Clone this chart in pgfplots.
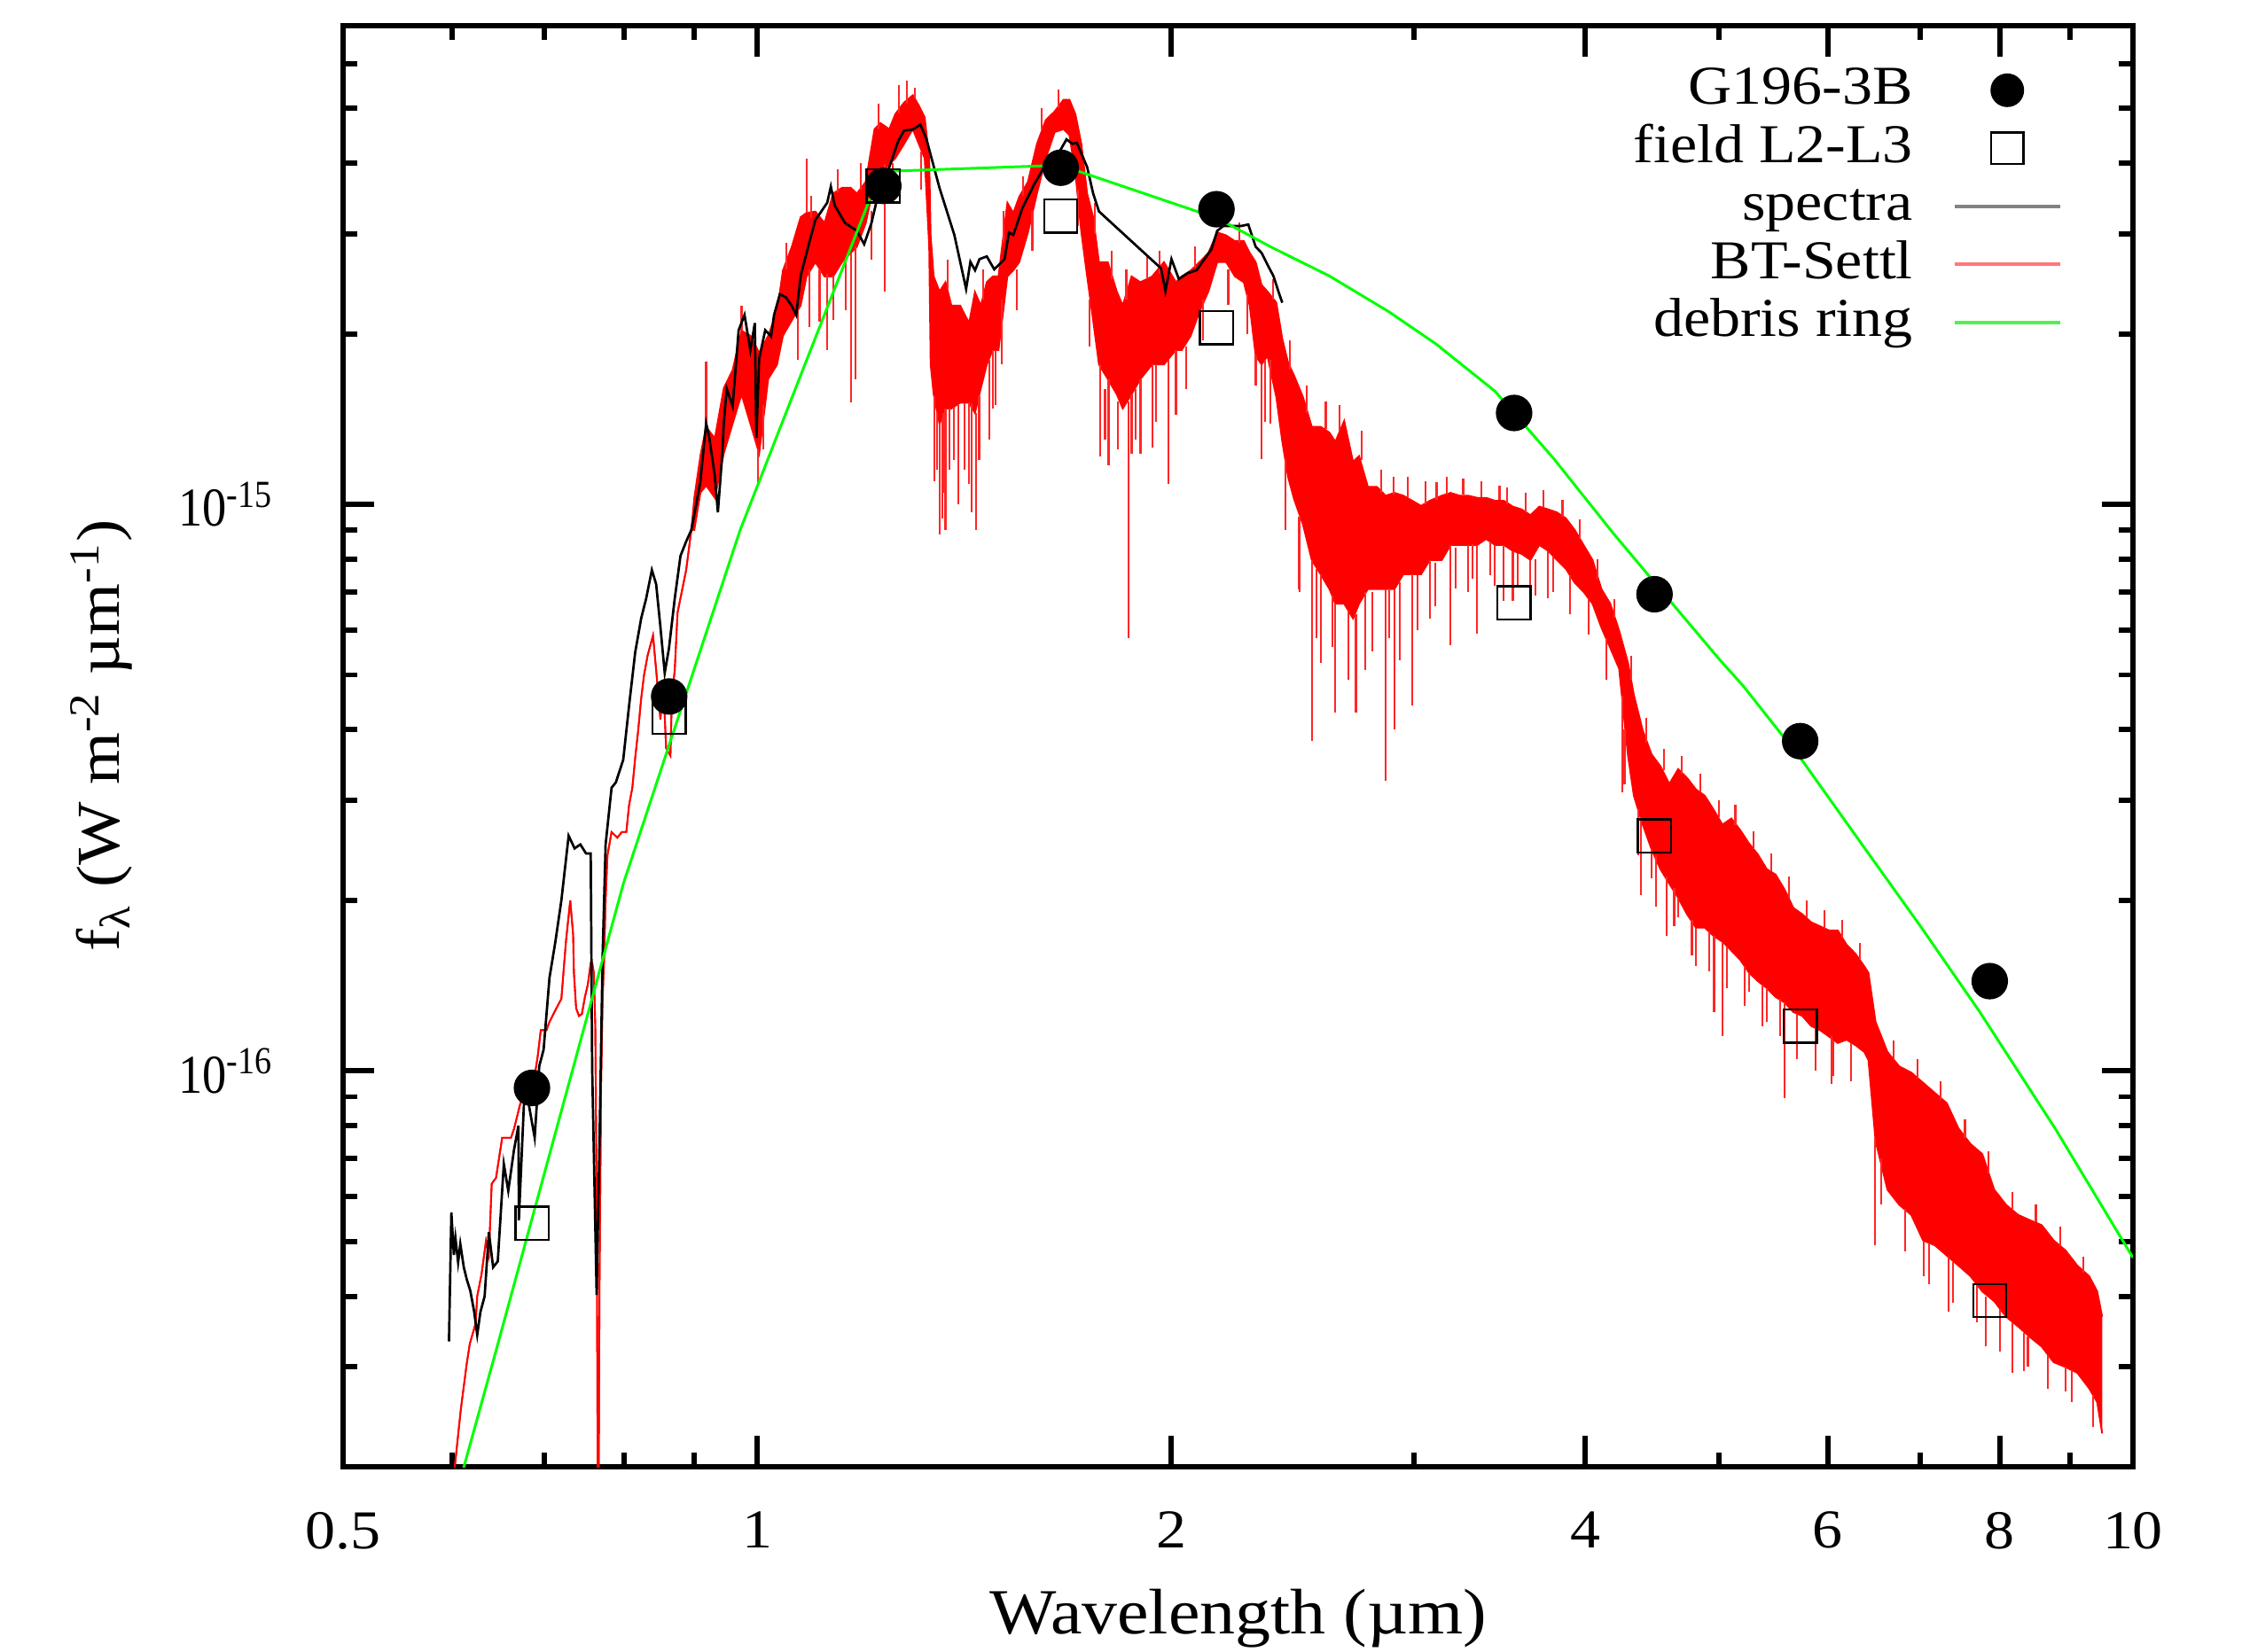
\documentclass[border=0pt]{standalone}
\usepackage{pgfplots}
\usepackage{pgfplotstable}
\usepackage{graphicx}
\pgfplotsset{compat=1.18}
\usepgfplotslibrary{fillbetween}
\usepackage{fontspec}
\setmainfont{Liberation Serif}[FakeStretch=1.1]
\definecolor{specgray}{RGB}{130,130,130}
\definecolor{settlpink}{RGB}{255,120,120}
\definecolor{ringgreen}{RGB}{80,240,80}

% BT-Settl model: x, upper edge, lower edge of the dense band
\pgfplotstableread{
x u l
0.5997 1.82e-17 1.82e-17
0.6031 2.02e-17 2.02e-17
0.6090 2.53e-17 2.53e-17
0.6150 3.04e-17 3.04e-17
0.6182 3.30e-17 3.30e-17
0.6242 3.58e-17 3.58e-17
0.6259 4.00e-17 4.00e-17
0.6305 4.38e-17 4.38e-17
0.6352 5.01e-17 5.01e-17
0.6382 4.73e-17 4.73e-17
0.6413 6.32e-17 6.32e-17
0.6459 6.47e-17 6.47e-17
0.6526 7.62e-17 7.62e-17
0.6624 7.62e-17 7.62e-17
0.6657 7.90e-17 7.90e-17
0.6722 8.69e-17 8.69e-17
0.6790 9.38e-17 9.38e-17
0.6891 9.81e-17 9.81e-17
0.6925 1.058e-16 1.058e-16
0.6961 1.18e-16 1.18e-16
0.7028 1.18e-16 1.18e-16
0.7064 1.22e-16 1.22e-16
0.7134 1.28e-16 1.28e-16
0.7206 1.34e-16 1.34e-16
0.7240 1.55e-16 1.55e-16
0.7263 1.70e-16 1.70e-16
0.7314 2.00e-16 2.00e-16
0.7349 1.74e-16 1.74e-16
0.7359 1.49e-16 1.49e-16
0.7386 1.29e-16 1.29e-16
0.7421 1.25e-16 1.25e-16
0.7458 1.26e-16 1.26e-16
0.7496 1.35e-16 1.35e-16
0.7533 1.42e-16 1.42e-16
0.7569 1.55e-16 1.55e-16
0.7587 1.55e-16 1.55e-16
0.7608 1.49e-16 1.49e-16
0.7628 1.20e-16 1.20e-16
0.7646 5.63e-17 5.63e-17
0.7659 1.82e-17 1.82e-17
0.7670 1.82e-17 1.82e-17
0.7682 4.21e-17 4.21e-17
0.7701 9.49e-17 9.49e-17
0.7721 1.34e-16 1.34e-16
0.7740 1.56e-16 1.56e-16
0.7760 2.00e-16 2.00e-16
0.7784 2.40e-16 2.40e-16
0.7837 2.64e-16 2.64e-16
0.7914 2.58e-16 2.58e-16
0.7973 2.64e-16 2.64e-16
0.8033 2.64e-16 2.64e-16
0.8069 2.94e-16 2.94e-16
0.8114 3.16e-16 3.16e-16
0.8156 3.60e-16 3.60e-16
0.8193 3.98e-16 3.98e-16
0.8235 4.54e-16 4.54e-16
0.8274 4.99e-16 4.99e-16
0.8324 5.41e-16 5.41e-16
0.8400 5.87e-16 5.87e-16
0.8444 5.10e-16 5.10e-16
0.8505 4.17e-16 4.17e-16
0.8545 4.82e-16 4.82e-16
0.8587 3.71e-16 3.71e-16
0.8648 3.60e-16 3.60e-16
0.8669 4.54e-16 4.54e-16
0.8711 5.10e-16 5.10e-16
0.8752 6.44e-16 6.44e-16
0.8815 7.02e-16 7.02e-16
0.8879 7.66e-16 7.66e-16
0.8956 9.01e-16 9.01e-16
0.9001 1.027e-15 9.01e-16
0.9094 1.22e-15 1.049e-15
0.9181 1.37e-15 1.08e-15
0.9316 1.308e-15 1.027e-15
0.9456 1.604e-15 1.230e-15
0.9597 1.726e-15 1.388e-15
0.9741 2.026e-15 1.565e-15
0.9886 1.985e-15 1.388e-15
1.0033 1.852e-15 1.230e-15
1.0186 1.985e-15 1.665e-15
1.0338 2.191e-15 1.766e-15
1.0440 2.587e-15 1.985e-15
1.0597 2.850e-15 2.114e-15
1.0754 3.214e-15 2.244e-15
1.0861 3.27e-15 2.526e-15
1.1023 3.288e-15 2.677e-15
1.1193 3.138e-15 2.526e-15
1.1355 3.537e-15 2.526e-15
1.1525 3.622e-15 2.677e-15
1.1696 3.622e-15 2.780e-15
1.1815 3.537e-15 2.850e-15
1.1992 3.711e-15 3.138e-15
1.2170 4.596e-15 3.711e-15
1.2291 4.711e-15 3.845e-15
1.2474 4.596e-15 3.986e-15
1.2598 4.883e-15 4.082e-15
1.2786 5.121e-15 4.327e-15
1.2975 5.275e-15 4.596e-15
1.3107 5.060e-15 4.327e-15
1.3236 4.824e-15 4.082e-15
1.3336 4.082e-15 2.850e-15
1.3368 2.985e-15 1.766e-15
1.3436 2.526e-15 1.565e-15
1.3568 2.376e-15 1.388e-15
1.3705 2.467e-15 1.477e-15
1.3841 2.244e-15 1.477e-15
1.4047 2.244e-15 1.512e-15
1.4257 2.089e-15 1.512e-15
1.4397 2.370e-15 1.45e-15
1.4541 2.244e-15 1.604e-15
1.4685 2.467e-15 1.766e-15
1.4831 2.526e-15 1.874e-15
1.4977 2.526e-15 1.874e-15
1.5201 3.408e-15 2.526e-15
1.5354 3.27e-15 2.59e-15
1.5506 3.493e-15 2.677e-15
1.5734 3.711e-15 3.021e-15
1.5972 4.327e-15 3.537e-15
1.6210 4.768e-15 4.082e-15
1.6453 4.940e-15 4.541e-15
1.6699 5.181e-15 4.596e-15
1.6864 5.181e-15 4.486e-15
1.7034 4.883e-15 3.845e-15
1.7204 4.327e-15 3.021e-15
1.7372 3.537e-15 2.526e-15
1.7547 3.214e-15 2.114e-15
1.7719 2.677e-15 1.766e-15
1.7984 2.677e-15 1.665e-15
1.8255 2.376e-15 1.565e-15
1.8439 2.244e-15 1.477e-15
1.8713 2.526e-15 1.565e-15
1.8994 2.467e-15 1.665e-15
1.9371 2.526e-15 1.766e-15
1.9757 2.677e-15 1.766e-15
2.0154 2.467e-15 1.874e-15
2.0354 2.526e-15 1.874e-15
2.0659 2.587e-15 1.985e-15
2.0966 2.677e-15 2.191e-15
2.1280 2.780e-15 2.376e-15
2.1597 3.021e-15 2.677e-15
2.1922 2.985e-15 2.677e-15
2.2248 2.915e-15 2.526e-15
2.2580 2.915e-15 2.467e-15
2.2803 2.780e-15 2.244e-15
2.3033 2.677e-15 1.83e-15
2.3261 2.44e-15 1.766e-15
2.3490 2.376e-15 1.83e-15
2.3841 2.271e-15 1.547e-15
2.4082 1.960e-15 1.29e-15
2.4318 1.778e-15 1.117e-15
2.4558 1.690e-15 1.023e-15
2.4927 1.547e-15 9.22e-16
2.5300 1.371e-15 7.98e-16
2.5676 1.371e-15 7.53e-16
2.6060 1.339e-15 7.09e-16
2.6318 1.29e-15 6.68e-16
2.6710 1.404e-15 6.68e-16
2.7110 1.189e-15 6.29e-16
2.7384 1.217e-15 6.68e-16
2.7792 1.074e-15 7.09e-16
2.8207 1.074e-15 7.09e-16
2.8626 1.036e-15 7.09e-16
2.9056 1.048e-15 7.09e-16
2.9492 1.036e-15 7.53e-16
2.9930 1.015e-15 7.53e-16
3.0381 9.94e-16 7.53e-16
3.0834 1.015e-15 7.98e-16
3.1450 1.036e-15 7.98e-16
3.1921 1.048e-15 8.48e-16
3.2400 1.036e-15 8.48e-16
3.2884 1.036e-15 8.48e-16
3.3376 1.027e-15 8.48e-16
3.3873 1.027e-15 8.69e-16
3.4380 1.015e-15 8.48e-16
3.4895 1.015e-15 8.48e-16
3.5419 9.91e-16 8.28e-16
3.5946 9.80e-16 8.18e-16
3.6482 9.57e-16 7.98e-16
3.7027 9.91e-16 8.48e-16
3.7582 9.80e-16 8.28e-16
3.8138 9.68e-16 7.98e-16
3.8713 9.45e-16 7.70e-16
3.9291 9.01e-16 7.27e-16
3.9878 8.48e-16 7.01e-16
4.0475 7.98e-16 6.68e-16
4.1081 7.09e-16 6.06e-16
4.1692 6.68e-16 5.58e-16
4.2316 5.99e-16 5.13e-16
4.2951 5.25e-16 3.60e-16
4.3374 4.61e-16 3.06e-16
4.4025 3.99e-16 2.72e-16
4.4681 3.62e-16 2.46e-16
4.5348 3.45e-16 2.27e-16
4.6025 3.21e-16 2.14e-16
4.6714 3.41e-16 2.02e-16
4.7410 3.29e-16 1.89e-16
4.8120 3.14e-16 1.79e-16
4.8839 3.06e-16 1.79e-16
4.9572 2.89e-16 1.73e-16
5.0311 2.72e-16 1.69e-16
5.1061 2.79e-16 1.63e-16
5.1829 2.66e-16 1.57e-16
5.2599 2.52e-16 1.49e-16
5.3376 2.41e-16 1.44e-16
5.4183 2.27e-16 1.40e-16
5.4992 2.22e-16 1.35e-16
5.5818 2.09e-16 1.32e-16
5.6648 1.94e-16 1.27e-16
5.7500 1.89e-16 1.25e-16
5.8360 1.83e-16 1.20e-16
5.9226 1.80e-16 1.18e-16
6.0120 1.77e-16 1.15e-16
6.1015 1.77e-16 1.12e-16
6.1925 1.67e-16 1.135e-16
6.2850 1.61e-16 1.11e-16
6.3785 1.53e-16 1.08e-16
6.4233 1.49e-16 1.045e-16
6.5007 1.22e-16 7.52e-17
6.6309 1.08e-16 6.17e-17
6.7640 1.018e-16 5.80e-17
6.9000 9.93e-17 5.57e-17
7.0379 9.53e-17 5.02e-17
7.1792 9.14e-17 4.92e-17
7.3232 8.77e-17 4.72e-17
7.4699 7.91e-17 4.53e-17
7.6200 7.43e-17 4.34e-17
7.7724 7.13e-17 4.08e-17
7.9293 6.17e-17 3.92e-17
8.0876 5.80e-17 3.68e-17
8.2497 5.57e-17 3.54e-17
8.4157 5.45e-17 3.39e-17
8.5842 5.34e-17 3.26e-17
8.7568 5.02e-17 3.06e-17
8.9326 4.82e-17 3.00e-17
9.1118 4.53e-17 2.93e-17
9.2945 4.34e-17 2.75e-17
9.4196 4.08e-17 2.60e-17
9.4987 3.68e-17 2.29e-17
}\settl

% BT-Settl absorption lines and peaks (pairs of points, separated by nan)
\pgfplotstableread{
x y
0.9181 1.37e-15
0.9181 1.79e-15
nan nan
0.9741 2.026e-15
0.9741 2.244e-15
nan nan
1.0007 1.25e-15
1.0007 1.08e-15
nan nan
1.0100 1.50e-15
1.0100 1.25e-15
nan nan
1.0500 2.60e-15
1.0500 2.90e-15
nan nan
1.0700 2.20e-15
1.0700 1.80e-15
nan nan
1.0861 3.27e-15
1.0861 4.082e-15
nan nan
1.0908 2.6e-15
1.0908 2.06e-15
nan nan
1.0950 3.20e-15
1.0950 3.50e-15
nan nan
1.1100 2.60e-15
1.1100 2.10e-15
nan nan
1.1244 2.55e-15
1.1244 1.874e-15
nan nan
1.1360 2.53e-15
1.1360 2.114e-15
nan nan
1.1450 3.55e-15
1.1450 3.90e-15
nan nan
1.1600 2.70e-15
1.1600 2.20e-15
nan nan
1.1696 2.78e-15
1.1696 1.512e-15
nan nan
1.1788 2.85e-15
1.1788 1.665e-15
nan nan
1.1900 3.60e-15
1.1900 4.00e-15
nan nan
1.2100 3.30e-15
1.2100 2.70e-15
nan nan
1.2250 4.60e-15
1.2250 5.10e-15
nan nan
1.2382 3.99e-15
1.2382 2.376e-15
nan nan
1.2550 4.00e-15
1.2550 3.40e-15
nan nan
1.2681 4.9e-15
1.2681 5.50e-15
nan nan
1.2850 5.10e-15
1.2850 5.60e-15
nan nan
1.3020 5.2e-15
1.3020 5.44e-15
nan nan
1.3150 4.20e-15
1.3150 3.60e-15
nan nan
1.3450 1.55e-15
1.3450 1.10e-15
nan nan
1.3513 1.45e-15
1.3513 1.15e-15
nan nan
1.3568 1.388e-15
1.3568 8.85e-16
nan nan
1.3627 1.42e-15
1.3627 9.44e-16
nan nan
1.3650 1.45e-15
1.3650 1.05e-15
nan nan
1.3705 1.477e-15
1.3705 9.01e-16
nan nan
1.3750 2.40e-15
1.3750 2.70e-15
nan nan
1.3790 1.477e-15
1.3790 1.15e-15
nan nan
1.3900 1.48e-15
1.3900 1.20e-15
nan nan
1.4000 1.50e-15
1.4000 1.00e-15
nan nan
1.4150 1.51e-15
1.4150 1.15e-15
nan nan
1.4257 1.512e-15
1.4257 1.086e-15
nan nan
1.4312 1.51e-15
1.4312 9.68e-16
nan nan
1.4431 1.45e-15
1.4431 9.01e-16
nan nan
1.4500 1.55e-15
1.4500 1.20e-15
nan nan
1.4600 2.30e-15
1.4600 2.60e-15
nan nan
1.4750 1.80e-15
1.4750 1.30e-15
nan nan
1.4831 1.874e-15
1.4831 1.477e-15
nan nan
1.4900 1.87e-15
1.4900 1.50e-15
nan nan
1.5052 2.3e-15
1.5052 1.766e-15
nan nan
1.5100 2.90e-15
1.5100 3.30e-15
nan nan
1.5450 2.60e-15
1.5450 2.20e-15
nan nan
1.5600 3.50e-15
1.5600 3.80e-15
nan nan
1.5850 3.30e-15
1.5850 2.80e-15
nan nan
1.6100 4.60e-15
1.6100 5.00e-15
nan nan
1.6550 5.00e-15
1.6550 5.40e-15
nan nan
1.7100 3.60e-15
1.7100 3.10e-15
nan nan
1.7450 2.30e-15
1.7450 1.90e-15
nan nan
1.7600 3.00e-15
1.7600 3.40e-15
nan nan
1.7761 1.766e-15
1.7761 1.217e-15
nan nan
1.7900 1.60e-15
1.7900 1.30e-15
nan nan
1.8006 1.665e-15
1.8006 1.173e-15
nan nan
1.8100 2.50e-15
1.8100 2.80e-15
nan nan
1.8300 1.52e-15
1.8300 1.25e-15
nan nan
1.8550 2.30e-15
1.8550 2.60e-15
nan nan
1.8621 1.52e-15
1.8621 5.80e-16
nan nan
1.8713 1.565e-15
1.8713 1.230e-15
nan nan
1.8850 1.60e-15
1.8850 1.30e-15
nan nan
1.8994 1.665e-15
1.8994 1.230e-15
nan nan
1.9200 2.50e-15
1.9200 2.75e-15
nan nan
1.9371 1.766e-15
1.9371 1.259e-15
nan nan
1.9500 1.77e-15
1.9500 1.40e-15
nan nan
1.9600 2.55e-15
1.9600 2.80e-15
nan nan
1.9906 1.80e-15
1.9906 1.086e-15
nan nan
2.0154 1.874e-15
2.0154 1.438e-15
nan nan
2.0500 1.90e-15
2.0500 1.60e-15
nan nan
2.0800 2.62e-15
2.0800 2.85e-15
nan nan
2.1100 2.30e-15
2.1100 1.95e-15
nan nan
2.2000 2.60e-15
2.2000 2.25e-15
nan nan
2.2400 2.90e-15
2.2400 3.15e-15
nan nan
2.2700 2.35e-15
2.2700 2.00e-15
nan nan
2.3033 1.83e-15
2.3033 1.623e-15
nan nan
2.3261 1.766e-15
2.3261 1.203e-15
nan nan
2.3400 1.80e-15
2.3400 1.40e-15
nan nan
2.3609 1.80e-15
2.3609 1.388e-15
nan nan
2.3700 2.30e-15
2.3700 2.50e-15
nan nan
2.4200 1.20e-15
2.4200 9.00e-16
nan nan
2.4400 1.73e-15
2.4400 1.95e-15
nan nan
2.4743 9.5e-16
2.4743 7.09e-16
nan nan
2.4800 9.50e-16
2.4800 7.00e-16
nan nan
2.5100 1.45e-15
2.5100 1.62e-15
nan nan
2.5300 7.98e-16
2.5300 3.82e-16
nan nan
2.5500 7.70e-16
2.5500 5.80e-16
nan nan
2.5676 7.53e-16
2.5676 5.25e-16
nan nan
2.5900 1.36e-15
2.5900 1.52e-15
nan nan
2.6200 6.90e-16
2.6200 5.60e-16
nan nan
2.6318 6.68e-16
2.6318 4.29e-16
nan nan
2.6500 1.35e-15
2.6500 1.50e-15
nan nan
2.6900 6.50e-16
2.6900 4.90e-16
nan nan
2.7241 6.4e-16
2.7241 4.29e-16
nan nan
2.7500 1.20e-15
2.7500 1.35e-15
nan nan
2.7666 7.0e-16
2.7666 5.10e-16
nan nan
2.8000 7.00e-16
2.8000 5.50e-16
nan nan
2.8400 1.05e-15
2.8400 1.15e-15
nan nan
2.8626 7.09e-16
2.8626 3.25e-16
nan nan
2.8800 7.10e-16
2.8800 5.80e-16
nan nan
2.9021 1.04e-15
2.9021 1.117e-15
nan nan
2.9056 7.09e-16
2.9056 4.00e-16
nan nan
2.9300 7.30e-16
2.9300 5.30e-16
nan nan
2.9700 1.03e-15
2.9700 1.12e-15
nan nan
2.9930 7.53e-16
2.9930 4.41e-16
nan nan
3.0200 7.50e-16
3.0200 6.00e-16
nan nan
3.0600 1.00e-15
3.0600 1.10e-15
nan nan
3.0834 7.98e-16
3.0834 6.29e-16
nan nan
3.1100 7.90e-16
3.1100 6.60e-16
nan nan
3.1182 1.02e-15
3.1182 1.093e-15
nan nan
3.1700 1.04e-15
3.1700 1.12e-15
nan nan
3.1921 8.48e-16
3.1921 5.64e-16
nan nan
3.2200 8.40e-16
3.2200 7.10e-16
nan nan
3.2600 1.04e-15
3.2600 1.11e-15
nan nan
3.2884 8.48e-16
3.2884 7.01e-16
nan nan
3.3100 8.50e-16
3.3100 7.40e-16
nan nan
3.3376 8.48e-16
3.3376 5.92e-16
nan nan
3.3600 1.03e-15
3.3600 1.10e-15
nan nan
3.4100 8.60e-16
3.4100 7.50e-16
nan nan
3.4380 8.48e-16
3.4380 7.18e-16
nan nan
3.4646 1.02e-15
3.4646 1.08e-15
nan nan
3.4895 8.48e-16
3.4895 6.76e-16
nan nan
3.5100 1.00e-15
3.5100 1.07e-15
nan nan
3.5419 8.28e-16
3.5419 6.76e-16
nan nan
3.5700 8.20e-16
3.5700 7.20e-16
nan nan
3.6200 9.70e-16
3.6200 1.05e-15
nan nan
3.6482 7.98e-16
3.6482 6.68e-16
nan nan
3.6800 8.00e-16
3.6800 6.90e-16
nan nan
3.7300 9.90e-16
3.7300 1.06e-15
nan nan
3.7582 8.28e-16
3.7582 6.84e-16
nan nan
3.7900 8.10e-16
3.7900 7.00e-16
nan nan
3.8500 9.50e-16
3.8500 1.02e-15
nan nan
3.9000 7.50e-16
3.9000 6.40e-16
nan nan
3.9600 8.70e-16
3.9600 9.40e-16
nan nan
4.0200 6.80e-16
4.0200 5.90e-16
nan nan
4.0800 7.40e-16
4.0800 8.00e-16
nan nan
4.1400 5.80e-16
4.1400 4.90e-16
nan nan
4.2000 6.30e-16
4.2000 6.80e-16
nan nan
4.2522 4.6e-16
4.2522 3.10e-16
nan nan
4.2700 4.00e-16
4.2700 3.20e-16
nan nan
4.3200 4.90e-16
4.3200 5.40e-16
nan nan
4.3700 2.90e-16
4.3700 2.40e-16
nan nan
4.3904 2.8e-16
4.3904 2.04e-16
nan nan
4.4300 3.80e-16
4.4300 4.20e-16
nan nan
4.4681 2.46e-16
4.4681 2.19e-16
nan nan
4.5000 2.40e-16
4.5000 1.95e-16
nan nan
4.5600 3.40e-16
4.5600 3.70e-16
nan nan
4.5795 2.2e-16
4.5795 1.73e-16
nan nan
4.6400 2.10e-16
4.6400 1.80e-16
nan nan
4.6714 2.02e-16
4.6714 1.87e-16
nan nan
4.7000 3.35e-16
4.7000 3.60e-16
nan nan
4.7800 1.85e-16
4.7800 1.60e-16
nan nan
4.8120 1.79e-16
4.8120 1.53e-16
nan nan
4.8500 3.10e-16
4.8500 3.35e-16
nan nan
4.9200 1.76e-16
4.9200 1.50e-16
nan nan
4.9607 1.73e-16
4.9607 1.27e-16
nan nan
5.0000 2.80e-16
5.0000 3.00e-16
nan nan
5.0311 1.69e-16
5.0311 1.15e-16
nan nan
5.0700 1.66e-16
5.0700 1.40e-16
nan nan
5.1400 2.72e-16
5.1400 2.95e-16
nan nan
5.2200 1.53e-16
5.2200 1.30e-16
nan nan
5.2599 1.49e-16
5.2599 1.38e-16
nan nan
5.3000 2.46e-16
5.3000 2.65e-16
nan nan
5.3800 1.42e-16
5.3800 1.20e-16
nan nan
5.4183 1.40e-16
5.4183 1.22e-16
nan nan
5.4600 2.25e-16
5.4600 2.42e-16
nan nan
5.5400 1.34e-16
5.5400 1.15e-16
nan nan
5.5818 1.32e-16
5.5818 8.95e-17
nan nan
5.6200 2.02e-16
5.6200 2.20e-16
nan nan
5.7000 1.26e-16
5.7000 1.05e-16
nan nan
5.7900 1.86e-16
5.7900 2.00e-16
nan nan
5.8800 1.19e-16
5.8800 1.00e-16
nan nan
5.9700 1.78e-16
5.9700 1.92e-16
nan nan
6.0358 1.15e-16
6.0358 9.49e-17
nan nan
6.0600 1.13e-16
6.0600 9.80e-17
nan nan
6.1500 1.72e-16
6.1500 1.85e-16
nan nan
6.2400 1.12e-16
6.2400 9.60e-17
nan nan
6.3300 1.57e-16
6.3300 1.68e-16
nan nan
6.4916 7.6e-17
6.4916 4.92e-17
nan nan
6.5600 7.00e-17
6.5600 5.80e-17
nan nan
6.7000 1.05e-16
6.7000 1.13e-16
nan nan
6.8300 5.70e-17
6.8300 4.80e-17
nan nan
6.9700 9.70e-17
6.9700 1.05e-16
nan nan
7.0462 5.0e-17
7.0462 4.34e-17
nan nan
7.1100 4.97e-17
7.1100 4.20e-17
nan nan
7.2500 8.90e-17
7.2500 9.60e-17
nan nan
7.3479 4.7e-17
7.3479 3.76e-17
nan nan
7.4000 4.60e-17
7.4000 3.90e-17
nan nan
7.5500 7.60e-17
7.5500 8.20e-17
nan nan
7.7000 4.20e-17
7.7000 3.60e-17
nan nan
7.8144 4.0e-17
7.8144 3.26e-17
nan nan
7.8500 6.60e-17
7.8500 7.20e-17
nan nan
8.0000 3.80e-17
8.0000 3.20e-17
nan nan
8.1694 3.6e-17
8.1694 2.93e-17
nan nan
8.1700 5.70e-17
8.1700 6.10e-17
nan nan
8.3300 3.45e-17
8.3300 2.95e-17
nan nan
8.3878 3.4e-17
8.3878 3.00e-17
nan nan
8.5000 5.40e-17
8.5000 5.80e-17
nan nan
8.6700 3.15e-17
8.6700 2.75e-17
nan nan
8.8500 4.90e-17
8.8500 5.30e-17
nan nan
8.9362 3.0e-17
8.9362 2.72e-17
nan nan
9.0300 2.96e-17
9.0300 2.60e-17
nan nan
9.2000 4.40e-17
9.2000 4.70e-17
nan nan
9.3600 2.68e-17
9.3600 2.35e-17
}\spikes

% observed spectra
\pgfplotstableread{
x y
0.5970 3.33e-17
0.5994 5.62e-17
0.6019 4.73e-17
0.6035 5.07e-17
0.6062 4.59e-17
0.6084 4.95e-17
0.6120 4.50e-17
0.6151 4.28e-17
0.6187 4.09e-17
0.6227 3.76e-17
0.6259 3.42e-17
0.6292 3.75e-17
0.6337 4.00e-17
0.6382 5.19e-17
0.6428 4.50e-17
0.6478 4.61e-17
0.6544 6.85e-17
0.6593 6.14e-17
0.6657 7.26e-17
0.6706 8.00e-17
0.6711 5.45e-17
0.6772 9.02e-17
0.6825 8.69e-17
0.6891 7.62e-17
0.6944 1.02e-16
0.6995 1.09e-16
0.7064 1.46e-16
0.7134 1.69e-16
0.7206 2.00e-16
0.7294 2.60e-16
0.7368 2.47e-16
0.7439 2.51e-16
0.7510 2.42e-16
0.7569 2.42e-16
0.7587 1.01e-16
0.7644 4.02e-17
0.7682 7.52e-17
0.7721 1.59e-16
0.7760 2.51e-16
0.7837 3.16e-16
0.7895 3.23e-16
0.7992 3.54e-16
0.8073 4.45e-16
0.8153 5.48e-16
0.8235 6.29e-16
0.8304 6.82e-16
0.8384 7.66e-16
0.8444 7.23e-16
0.8505 6.07e-16
0.8566 5.04e-16
0.8627 5.57e-16
0.8711 6.82e-16
0.8795 8.11e-16
0.8879 8.60e-16
0.8956 9.01e-16
0.9090 1.09e-15
0.9181 1.39e-15
0.9226 1.32e-15
0.9316 1.12e-15
0.9363 9.68e-16
0.9433 1.23e-15
0.9456 1.39e-15
0.9503 1.60e-15
0.9597 1.49e-15
0.9694 2.03e-15
0.9790 2.16e-15
0.9886 1.87e-15
0.9960 2.09e-15
0.9986 1.31e-15
1.0033 1.81e-15
1.0135 2.03e-15
1.0235 1.98e-15
1.0286 2.16e-15
1.0387 2.35e-15
1.0492 2.32e-15
1.0597 2.24e-15
1.0675 2.16e-15
1.0754 2.53e-15
1.0915 2.91e-15
1.1023 3.18e-15
1.1133 3.29e-15
1.1244 3.41e-15
1.1312 3.64e-15
1.1385 3.37e-15
1.1582 3.14e-15
1.1815 3.04e-15
1.1960 2.88e-15
1.2108 3.14e-15
1.2291 3.67e-15
1.2474 3.94e-15
1.2662 4.38e-15
1.2786 4.57e-15
1.2975 4.59e-15
1.3140 4.68e-15
1.3269 4.43e-15
1.3568 3.62e-15
1.3910 2.99e-15
1.4186 2.40e-15
1.4289 2.68e-15
1.4400 2.59e-15
1.4507 2.71e-15
1.4685 2.74e-15
1.4870 2.60e-15
1.5129 2.71e-15
1.5241 3.02e-15
1.5354 2.99e-15
1.5584 3.33e-15
1.5896 3.67e-15
1.6215 3.99e-15
1.6619 4.23e-15
1.6783 4.41e-15
1.6949 4.33e-15
1.7075 4.35e-15
1.7372 3.94e-15
1.7547 3.54e-15
1.7719 3.29e-15
1.9660 2.61e-15
1.9805 2.38e-15
2.0004 2.71e-15
2.0252 2.50e-15
2.0554 2.56e-15
2.0862 2.59e-15
2.1387 2.82e-15
2.1597 3.04e-15
2.1810 3.10e-15
2.2136 3.10e-15
2.2466 3.10e-15
2.2749 3.12e-15
2.3033 2.85e-15
2.3261 2.78e-15
2.3490 2.65e-15
2.3727 2.53e-15
2.3961 2.35e-15
2.4082 2.27e-15
}\spectra

% debris ring model
\pgfplotstableread{
x y
0.6026 1.74e-17
0.6128 2.02e-17
0.6478 3.29e-17
0.7994 2.14e-16
0.9717 9.00e-16
1.0855 1.79e-15
1.2294 3.87e-15
1.6620 3.97e-15
2.1597 3.20e-15
2.2248 3.08e-15
2.3610 2.85e-15
2.6060 2.53e-15
2.8770 2.19e-15
3.1146 1.92e-15
3.4380 1.584e-15
3.7950 1.203e-15
4.1890 8.90e-16
4.6260 6.68e-16
5.0070 5.32e-16
5.2090 4.78e-16
5.7500 3.53e-16
6.3470 2.52e-16
7.0080 1.80e-16
7.7360 1.273e-16
8.7890 7.88e-17
10.000 4.68e-17
}\ring

\newcommand{\ylab}[1]{\scalebox{0.8}[1]{10\textsuperscript{#1}}}

\begin{document}
\begin{tikzpicture}
\begin{axis}[
  xmode=log, ymode=log,
  scale only axis,
  width=372.5pt, height=300pt,
  xmin=0.5, xmax=10, ymin=2e-17, ymax=7e-15,
  axis line style={line width=1.2pt},
  tick style={line width=1.1pt, black},
  tick align=inside,
  xtick pos=both, ytick pos=both,
  major tick length=6.4pt, minor tick length=3pt,
  xtick={0.5,1,2,4,6,8,10},
  xticklabels={0.5,1,2,4,6,8,10},
  minor xtick={0.6,0.7,0.8,0.9,3,5,7,9},
  ytick={1e-16,1e-15},
  yticklabels={\ylab{-16},\ylab{-15}},
  minor ytick={3e-17,4e-17,5e-17,6e-17,7e-17,8e-17,9e-17,2e-16,3e-16,4e-16,5e-16,6e-16,7e-16,8e-16,9e-16,2e-15,3e-15,4e-15,5e-15,6e-15},
  tick label style={font=\fontsize{11.4}{13}\selectfont},
  xticklabel style={inner sep=0pt, yshift=-9.2pt},
  yticklabel style={inner sep=0pt, xshift=-14.3pt},
  xlabel={Wavelength (µm)},
  ylabel={f\textsubscript{λ} (W m\textsuperscript{-2} µm\textsuperscript{-1})},
  every axis x label/.style={at={(axis description cs:0.5,-0.1160)}, anchor=base, inner sep=0pt, font=\fontsize{13.4}{16}\selectfont},
  every axis y label/.style={at={(axis description cs:-0.125,0.5073)}, rotate=90, anchor=base, inner sep=0pt, font=\fontsize{12.7}{15}\selectfont},
  legend cell align=right,
  legend plot pos=right,
  legend style={draw=none, fill=none, at={(1,1)}, anchor=north east, xshift=-14.8pt, yshift=-7.4pt,
    inner sep=0pt, outer sep=0pt, row sep=0pt, /tikz/column sep=8.3pt,
    font=\fontsize{11.4}{13}\selectfont,
    nodes={inner sep=0pt, text height=9pt, text depth=3.08pt}},
]
% BT-Settl
\addplot[red, line width=0.35pt, name path=ru, forget plot] table[x=x, y=u] {\settl};
\addplot[red, line width=0.35pt, name path=rl, forget plot] table[x=x, y=l] {\settl};
\addplot[red, forget plot] fill between[of=ru and rl];
\addplot[red!85, line width=0.4pt, unbounded coords=jump, forget plot] table[x=x, y=y] {\spikes};
% spectra
\addplot[black, line width=0.5pt, forget plot] table[x=x, y=y] {\spectra};
% debris ring
\addplot[green, line width=0.55pt, forget plot] table[x=x, y=y] {\ring};
% field L2-L3
\addplot[only marks, mark=square, mark size=3.45pt, mark options={black, line width=0.45pt}, forget plot]
  coordinates {(0.686,5.38e-17) (0.863,4.21e-16) (1.235,3.65e-15) (1.662,3.23e-15) (2.157,2.05e-15)
               (3.55,6.70e-16) (4.49,2.60e-16) (5.73,1.20e-16) (7.87,3.93e-17)};
% G196-3B
\addplot[only marks, mark=*, mark size=3.6pt, mark options={black, fill=black}, forget plot]
  coordinates {(0.686,9.33e-17) (0.863,4.58e-16) (1.235,3.65e-15) (1.662,3.93e-15) (2.157,3.32e-15)
               (3.55,1.45e-15) (4.49,6.94e-16) (5.73,3.82e-16) (7.87,1.44e-16)};

\addlegendimage{legend image code/.code={\path[draw=none] (0pt,0pt) -- (22pt,0pt); \fill[black, draw=none] (11pt,0pt) circle (3.5pt);}}
\addlegendentry{G196-3B}
\addlegendimage{legend image code/.code={\path[draw=none] (0pt,0pt) -- (22pt,0pt); \draw[black, line width=0.45pt] (7.6pt,-3.3pt) rectangle (14.4pt,3.3pt);}}
\addlegendentry{field L2-L3}
\addlegendimage{legend image code/.code={\draw[specgray, line width=0.7pt] (0pt,0pt) -- (22pt,0pt);}}
\addlegendentry{spectra}
\addlegendimage{legend image code/.code={\draw[settlpink, line width=0.7pt] (0pt,0pt) -- (22pt,0pt);}}
\addlegendentry{BT-Settl}
\addlegendimage{legend image code/.code={\draw[ringgreen, line width=0.7pt] (0pt,0pt) -- (22pt,0pt);}}
\addlegendentry{debris ring}
\end{axis}
\path ([xshift=-71.4pt,yshift=-38.4pt]current axis.south west) rectangle ([xshift=22.7pt,yshift=5.35pt]current axis.north east);
\end{tikzpicture}
\end{document}
